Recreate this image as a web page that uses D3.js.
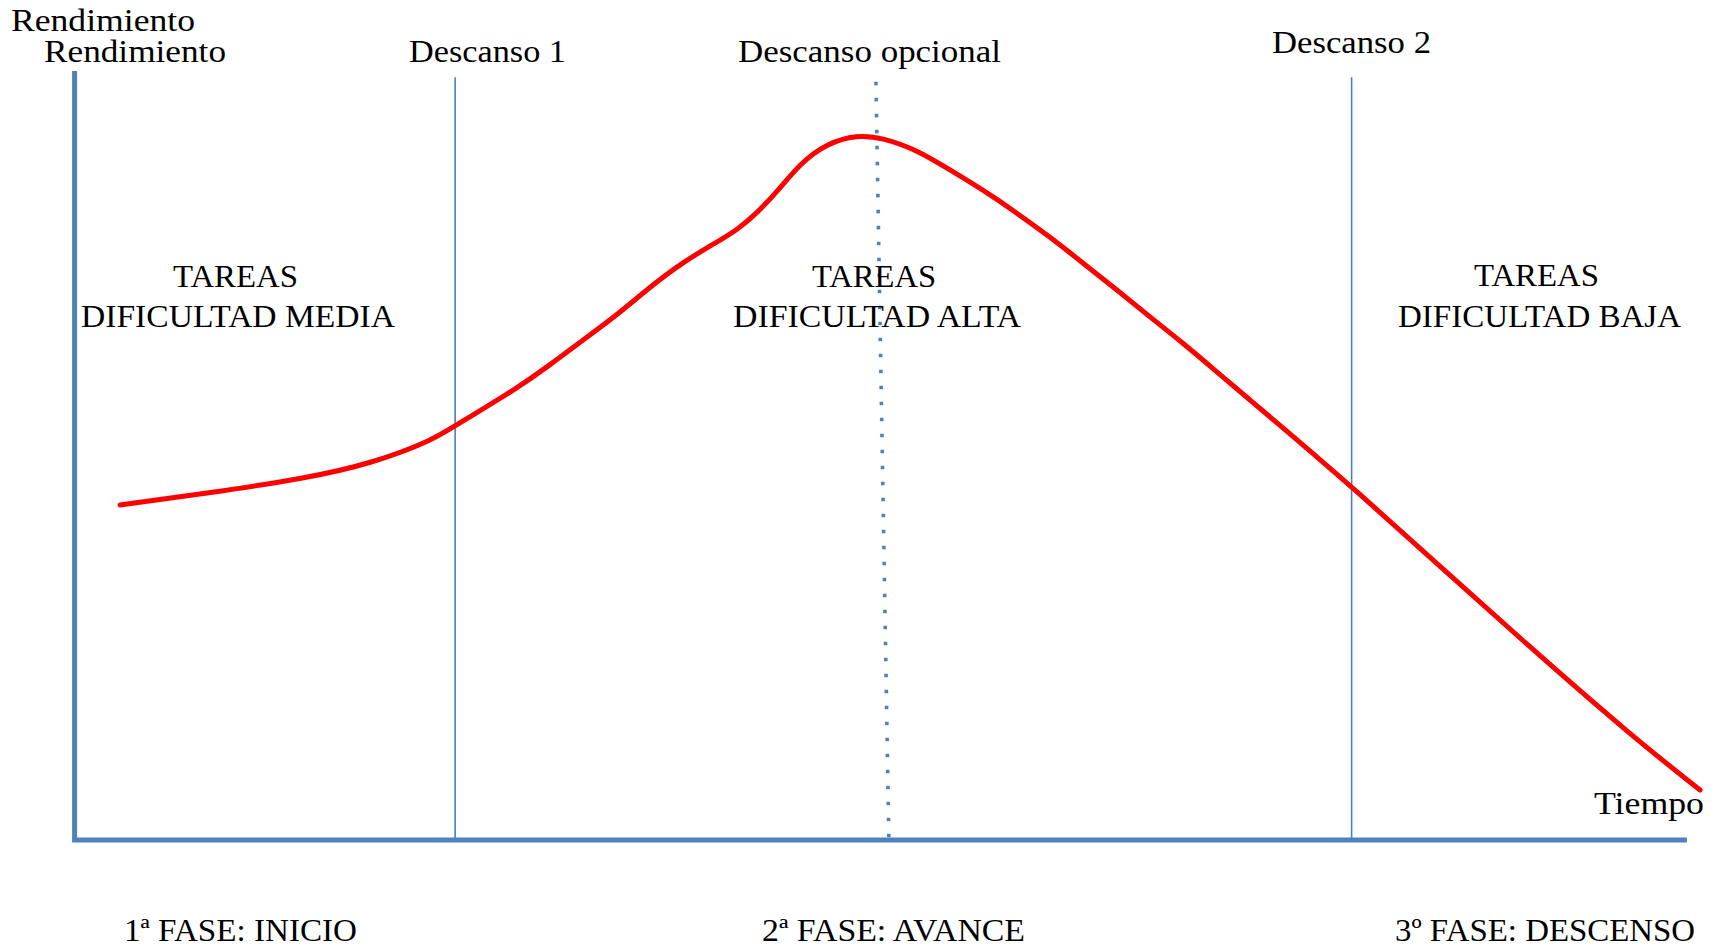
<!DOCTYPE html>
<html lang="es">
<head>
<meta charset="UTF-8">
<title>Rendimiento</title>
<script src="https://d3js.org/d3.v7.min.js"></script>
<style>
  body { margin: 0; background: #fff; }
  svg { display: block; }
  .lbl { font-family: "Liberation Serif", "DejaVu Serif", serif; font-size: 32px; fill: #000; }
  .axis { stroke: #4f81bd; stroke-width: 5; fill: none; }
  .rest { stroke: #4a7ebb; stroke-width: 1.6; }
  .rest-opt { stroke: #4f81bd; stroke-width: 3.6; stroke-dasharray: 3.6 12.4; }
  .curve { fill: none; stroke: #ff0000; stroke-width: 5; stroke-linecap: round; }
</style>
</head>
<body>
<script>
// curve (time 0-100, rendimiento 0-100)
var tiempo      = [2.82, 8.19, 14.39, 18.51, 22.23, 23.6, 27.35, 29.48, 31.53, 33.64, 35.68, 37.73, 39.84, 41.08, 42.32, 43.56, 45.0, 46.66, 48.52, 50.14,
                   52.24, 54.29, 56.34, 58.45, 60.49, 62.54, 64.65, 66.70, 68.74, 70.85, 72.90, 74.95, 77.05, 79.22, 84.25, 90.45, 96.65, 100.81];
var rendimiento = [43.56, 45.08, 47.03, 49.02, 52.0, 53.9, 58.6, 61.77, 65.02, 68.27, 71.91, 75.16, 77.76, 79.32, 81.53, 84.27, 88.0, 90.6, 91.7, 91.3,
                   89.73, 87.13, 84.53, 81.53, 78.41, 75.03, 71.52, 68.01, 64.63, 60.86, 57.22, 53.58, 49.80, 45.90, 36.41, 24.71, 13.39, 6.50];

// breaks
var descansos   = [23.6, 79.2];
var opcional    = [49.7, 50.5];   // dotted line, slightly slanted (top, bottom)

var W = 1720, H = 950;
var x = d3.scaleLinear().domain([0, 100]).range([74.6, 1687]);
var y = d3.scaleLinear().domain([0, 100]).range([840, 71]);

var svg = d3.select("body").append("svg")
    .attr("width", W)
    .attr("height", H);

// axes (plain lines, no ticks)
svg.append("path")
    .attr("class", "axis")
    .attr("d", "M" + x(0) + "," + y(100) + "V" + y(0) + "H" + x(100));

// solid breaks
svg.selectAll(".rest")
    .data(descansos)
  .enter().append("line")
    .attr("class", "rest")
    .attr("x1", function(d) { return x(d); })
    .attr("x2", function(d) { return x(d); })
    .attr("y1", y(99.2))
    .attr("y2", y(0));

// optional break
svg.append("line")
    .attr("class", "rest-opt")
    .attr("x1", x(opcional[0]))
    .attr("y1", y(98.6))
    .attr("x2", x(opcional[1]))
    .attr("y2", y(0));

var pts = tiempo.map(function(t, i) { return [t, rendimiento[i]]; });
var line = d3.line()
    .x(function(d) { return x(d[0]); })
    .y(function(d) { return y(d[1]); })
    .curve(d3.curveBasis);

svg.append("path")
    .datum(pts)
    .attr("class", "curve")
    .attr("d", line);

// text labels: [text, left, baseline, width]
var labels = [
  ["Rendimiento", 11, 31, 184],
  ["Rendimiento", 44, 62, 182],
  ["Descanso 1", 409, 62, 157],
  ["Descanso opcional", 738, 62, 263],
  ["Descanso 2", 1272, 53, 159],
  ["TAREAS", 173, 287, 125],
  ["DIFICULTAD MEDIA", 81, 327, 314],
  ["TAREAS", 812, 287, 124],
  ["DIFICULTAD ALTA", 733, 327, 288],
  ["TAREAS", 1474, 286, 125],
  ["DIFICULTAD BAJA", 1398, 327, 283],
  ["Tiempo", 1594, 814, 110],
  ["1ª FASE: INICIO", 124, 941, 233],
  ["2ª FASE: AVANCE", 762, 941, 263],
  ["3º FASE: DESCENSO", 1395, 941, 300]
];

svg.selectAll(".lbl")
    .data(labels)
  .enter().append("text")
    .attr("class", "lbl")
    .attr("x", function(d) { return d[1]; })
    .attr("y", function(d) { return d[2]; })
    .attr("textLength", function(d) { return d[3]; })
    .attr("lengthAdjust", "spacingAndGlyphs")
    .text(function(d) { return d[0]; });
</script>
</body>
</html>
